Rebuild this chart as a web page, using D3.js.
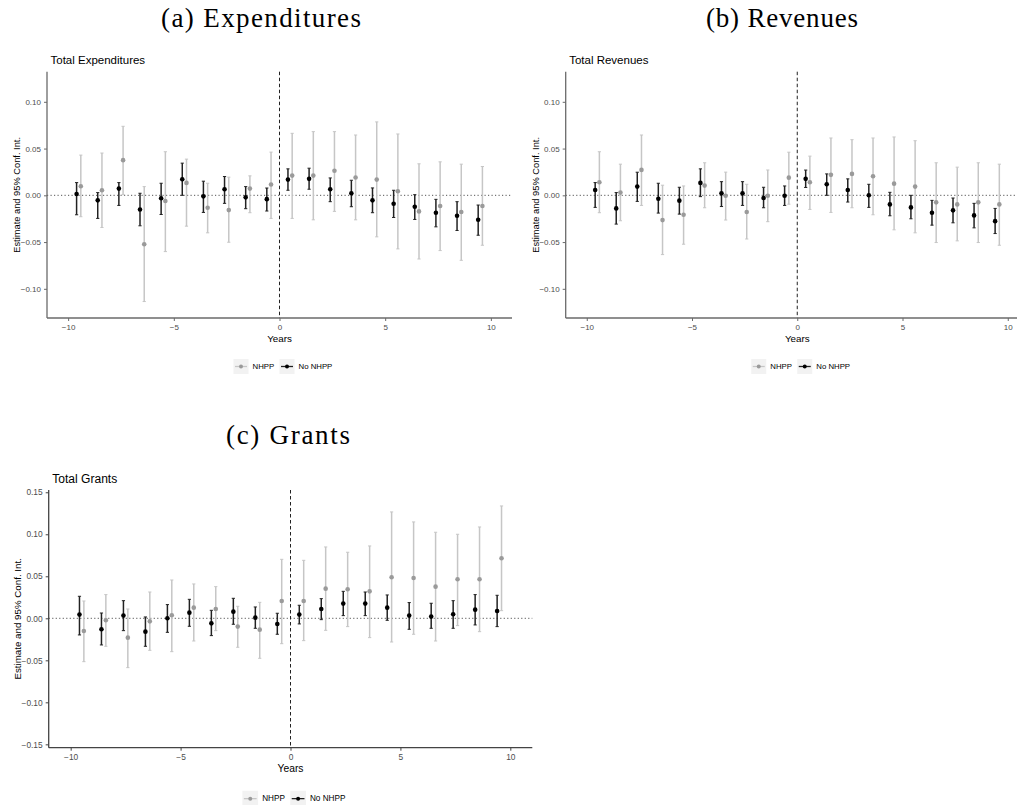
<!DOCTYPE html>
<html><head><meta charset="utf-8">
<script src="https://cdn.jsdelivr.net/npm/d3@7"></script>
<style>body{margin:0;background:#fff}svg{display:block}</style>
</head><body>
<svg id="chart" width="1017" height="805"></svg>
<script>
// ---------- data ----------
const years = [-9.5,-8.5,-7.5,-6.5,-5.5,-4.5,-3.5,-2.5,-1.5,-0.5,0.5,1.5,2.5,3.5,4.5,5.5,6.5,7.5,8.5,9.5];
const seriesNames = ["NHPP", "No NHPP"];
const xTicks = [-10, -5, 0, 5, 10];
const yTicksAB = [-0.10, -0.05, 0.00, 0.05, 0.10];
const yTicksC = [-0.15, -0.10, -0.05, 0.00, 0.05, 0.10, 0.15];

// Expenditures
const expNoEst = [0.0014,-0.0054,0.0072,-0.0151,-0.0032,0.0172,-0.0011,0.0065,-0.0022,-0.0041,0.0168,0.0176,0.0065,0.0022,-0.0054,-0.0090,-0.0122,-0.0186,-0.0219,-0.0262];
const expNoLo  = [-0.0208,-0.0247,-0.0108,-0.0326,-0.0205,0.0000,-0.0183,-0.0086,-0.0143,-0.0168,0.0054,0.0065,-0.0068,-0.0122,-0.0186,-0.0237,-0.0258,-0.0337,-0.0376,-0.0427];
const expNoHi  = [0.0136,0.0029,0.0136,0.0022,0.0129,0.0344,0.0151,0.0201,0.0093,0.0078,0.0283,0.0290,0.0186,0.0161,0.0079,0.0054,0.0007,-0.0043,-0.0068,-0.0104];
const expNhEst = [0.0097,0.0054,0.0376,-0.0523,-0.0061,0.0133,-0.0133,-0.0158,0.0072,0.0115,0.0211,0.0211,0.0262,0.0190,0.0168,0.0043,-0.0172,-0.0115,-0.0179,-0.0115];
const expNhLo  = [-0.0229,-0.0344,0.0007,-0.1136,-0.0602,-0.0330,-0.0401,-0.0502,-0.0186,-0.0247,-0.0247,-0.0262,-0.0172,-0.0262,-0.0444,-0.0573,-0.0681,-0.0591,-0.0695,-0.0534];
const expNhHi  = [0.0430,0.0452,0.0738,0.0093,0.0466,0.0387,0.0129,0.0194,0.0208,0.0462,0.0663,0.0681,0.0681,0.0645,0.0785,0.0656,0.0337,0.0358,0.0333,0.0308];

// Revenues
const revNoEst = [0.0057,-0.0140,0.0093,-0.0036,-0.0057,0.0133,0.0021,0.0021,-0.0029,-0.0005,0.0176,0.0118,0.0057,0.0000,-0.0097,-0.0129,-0.0186,-0.0161,-0.0215,-0.0276];
const revNoLo  = [-0.0129,-0.0308,-0.0065,-0.0190,-0.0201,-0.0014,-0.0120,-0.0108,-0.0133,-0.0108,0.0084,0.0000,-0.0072,-0.0129,-0.0219,-0.0251,-0.0319,-0.0294,-0.0348,-0.0409];
const revNoHi  = [0.0136,0.0029,0.0247,0.0129,0.0086,0.0283,0.0146,0.0146,0.0086,0.0100,0.0270,0.0229,0.0176,0.0118,0.0032,0.0000,-0.0054,-0.0029,-0.0086,-0.0140];
const revNhEst = [0.0140,0.0029,0.0272,-0.0265,-0.0208,0.0104,-0.0005,-0.0178,-0.0005,0.0189,0.0140,0.0219,0.0229,0.0204,0.0125,0.0093,-0.0075,-0.0097,-0.0075,-0.0097];
const revNhLo  = [-0.0186,-0.0272,-0.0108,-0.0634,-0.0523,-0.0133,-0.0264,-0.0467,-0.0282,-0.0095,-0.0151,-0.0183,-0.0133,-0.0208,-0.0369,-0.0401,-0.0505,-0.0487,-0.0505,-0.0534];
const revNhHi  = [0.0466,0.0333,0.0645,0.0108,0.0100,0.0348,0.0248,0.0118,0.0271,0.0461,0.0419,0.0613,0.0595,0.0613,0.0624,0.0584,0.0348,0.0301,0.0348,0.0333];

// Grants
const grNoEst = [0.0044,-0.0131,0.0032,-0.0159,0.0000,0.0067,-0.0060,0.0079,0.0008,-0.0067,0.0044,0.0111,0.0175,0.0175,0.0127,0.0032,0.0020,0.0048,0.0103,0.0087];
const grNoLo  = [-0.0198,-0.0317,-0.0147,-0.0333,-0.0167,-0.0095,-0.0206,-0.0071,-0.0119,-0.0190,-0.0067,-0.0016,0.0032,0.0032,-0.0024,-0.0131,-0.0119,-0.0119,-0.0079,-0.0099];
const grNoHi  = [0.0262,0.0063,0.0210,0.0016,0.0163,0.0226,0.0095,0.0238,0.0135,0.0060,0.0155,0.0234,0.0321,0.0313,0.0278,0.0187,0.0179,0.0210,0.0282,0.0274];
const grNhEst = [-0.0151,-0.0024,-0.0230,-0.0036,0.0036,0.0127,0.0111,-0.0099,-0.0135,0.0206,0.0206,0.0353,0.0345,0.0321,0.0488,0.0480,0.0377,0.0464,0.0464,0.0714];
const grNhLo  = [-0.0516,-0.0333,-0.0587,-0.0381,-0.0397,-0.0270,-0.0147,-0.0345,-0.0476,-0.0302,-0.0266,-0.0143,-0.0099,-0.0230,-0.0282,-0.0190,-0.0270,-0.0087,-0.0159,0.0091];
const grNhHi  = [0.0206,0.0282,0.0111,0.0313,0.0456,0.0409,0.0377,0.0143,0.0190,0.0702,0.0690,0.0849,0.0786,0.0861,0.1266,0.1147,0.1024,0.1000,0.1087,0.1337];

// ---------- drawing ----------
const svg = d3.select("#chart");
svg.append("rect").attr("width",1017).attr("height",805).attr("fill","#fff");

const styles = {
  "NHPP":    {bar:"#c6c6c6", dot:"#9a9a9a", dx: 0.1},
  "No NHPP": {bar:"#222222", dot:"#000000", dx:-0.1}
};

function panel(cfg){
  const g = svg.append("g");
  const s = cfg.scale;
  const x = d3.scaleLinear().domain([-11, 11]).range([cfg.x0, cfg.x1]);
  const y = d3.scaleLinear().domain(cfg.yDomain).range([cfg.yBottom, cfg.yTop]);

  // sub-figure caption (serif)
  g.append("text").attr("x", cfg.capX).attr("y", cfg.capY)
    .attr("text-anchor","middle").attr("font-family","'Liberation Serif', 'DejaVu Serif', serif")
    .attr("font-size", 27).attr("fill","#000")
    .attr("textLength", cfg.capW).attr("lengthAdjust","spacing")
    .text(cfg.caption);

  // panel title
  g.append("text").attr("x", cfg.x0 + 3.5).attr("y", cfg.yTop - 7.5)
    .attr("font-family","'Liberation Sans', Arial, sans-serif").attr("font-size", 11.5*s)
    .attr("fill","#000").text(cfg.title);

  // reference lines
  g.append("line").attr("x1", x.range()[0]).attr("x2", x.range()[1])
    .attr("y1", y(0)).attr("y2", y(0))
    .attr("stroke","#555").attr("stroke-width",1).attr("stroke-dasharray","1.2,2.3");
  g.append("line").attr("x1", x(0)).attr("x2", x(0))
    .attr("y1", cfg.yTop).attr("y2", cfg.yBottom)
    .attr("stroke","#222").attr("stroke-width",1).attr("stroke-dasharray","3.5,2.5");

  // axes
  const xAxis = d3.axisBottom(x).tickValues(xTicks).tickSize(3).tickPadding(3).tickFormat(d3.format("d"));
  const yAxis = d3.axisLeft(y).tickValues(cfg.yTicks).tickSize(3).tickPadding(3).tickFormat(d3.format(".2f"));
  const gx = g.append("g").attr("transform",`translate(0,${cfg.yBottom})`).call(xAxis);
  const gy = g.append("g").attr("transform",`translate(${cfg.x0},0)`).call(yAxis);
  [gx, gy].forEach(a => {
    a.select(".domain").attr("stroke", cfg.axisColor).attr("stroke-width",1.3);
    a.selectAll(".tick line").attr("stroke", cfg.axisColor).attr("stroke-width",1);
    a.selectAll(".tick text").attr("fill","#4d4d4d")
      .attr("font-family","'Liberation Sans', Arial, sans-serif").attr("font-size", 8*s);
  });
  gx.select(".domain").attr("d", `M${cfg.x0},0H${cfg.x1}`);
  gy.select(".domain").attr("d", `M0,${cfg.yTop}V${cfg.yBottom}`);
  gx.selectAll(".tick text").attr("dy","0.71em");

  // axis titles
  g.append("text").attr("x", (cfg.x0+cfg.x1)/2).attr("y", cfg.yBottom + 24)
    .attr("text-anchor","middle").attr("font-family","'Liberation Sans', Arial, sans-serif")
    .attr("font-size", 9.8*s).attr("fill","#000").text("Years");
  g.append("text")
    .attr("transform", `translate(${cfg.x0 - 30*s},${(cfg.yTop+cfg.yBottom)/2}) rotate(-90)`)
    .attr("text-anchor","middle").attr("dominant-baseline","central")
    .attr("font-family","'Liberation Sans', Arial, sans-serif")
    .attr("font-size", 9.3*s).attr("fill","#000").text("Estimate and 95% Conf. Int.");

  // error bars + points
  cfg.series.forEach(ser => {
    const st = styles[ser.name];
    const rows = years.map((yr,i) => ({yr, est: ser.est[i], lo: ser.lo[i], hi: ser.hi[i]}));
    const sg = g.append("g");
    sg.selectAll("line.bar").data(rows).join("line").attr("class","bar")
      .attr("x1", d => x(d.yr + st.dx)).attr("x2", d => x(d.yr + st.dx))
      .attr("y1", d => y(d.lo)).attr("y2", d => y(d.hi))
      .attr("stroke", st.bar).attr("stroke-width", 1.5);
    ["lo","hi"].forEach(k => {
      sg.selectAll("line.cap"+k).data(rows).join("line").attr("class","cap"+k)
        .attr("x1", d => x(d.yr + st.dx) - 1.6).attr("x2", d => x(d.yr + st.dx) + 1.6)
        .attr("y1", d => y(d[k])).attr("y2", d => y(d[k]))
        .attr("stroke", st.bar).attr("stroke-width", 1);
    });
    sg.selectAll("circle").data(rows).join("circle")
      .attr("cx", d => x(d.yr + st.dx)).attr("cy", d => y(d.est))
      .attr("r", 2.3).attr("fill", st.dot);
  });

  // legend
  const lg = g.append("g");
  const fs = 7.8*s;
  const cx = (cfg.x0+cfg.x1)/2 + 3;
  const ly = cfg.yBottom + 48.5*s;
  const boxW = 15*s;
  const widths = [22*s, 33*s];
  const total = boxW + 4 + widths[0] + 5 + boxW + 4 + widths[1];
  let xx = cx - total/2;
  seriesNames.forEach((nm,i) => {
    const st = styles[nm];
    lg.append("rect").attr("x", xx).attr("y", ly - boxW/2).attr("width", boxW).attr("height", boxW)
      .attr("fill","#f2f2f2");
    lg.append("line").attr("x1", xx+1.5).attr("x2", xx+boxW-1.5).attr("y1", ly).attr("y2", ly)
      .attr("stroke", st.bar).attr("stroke-width", 1.3);
    lg.append("circle").attr("cx", xx+boxW/2).attr("cy", ly).attr("r", 2).attr("fill", st.dot);
    lg.append("text").attr("x", xx+boxW+4).attr("y", ly).attr("dominant-baseline","central")
      .attr("font-family","'Liberation Sans', Arial, sans-serif").attr("font-size", fs)
      .attr("fill","#000").text(nm);
    xx += boxW + 4 + widths[i] + 5;
  });
}

panel({
  caption:"(a) Expenditures", capX:261, capY:27, capW:200,
  title:"Total Expenditures", scale:1, axisColor:"#6a6a6a",
  x0:47, x1:512, yTop:71.7, yBottom:318, yDomain:[-0.1312, 0.1322], yTicks:yTicksAB,
  series:[
    {name:"NHPP", est:expNhEst, lo:expNhLo, hi:expNhHi},
    {name:"No NHPP", est:expNoEst, lo:expNoLo, hi:expNoHi}
  ]
});
panel({
  caption:"(b) Revenues", capX:782, capY:27, capW:152,
  title:"Total Revenues", scale:1, axisColor:"#6a6a6a",
  x0:565.7, x1:1028.8, yTop:71.7, yBottom:318, yDomain:[-0.1312, 0.1322], yTicks:yTicksAB,
  series:[
    {name:"NHPP", est:revNhEst, lo:revNhLo, hi:revNhHi},
    {name:"No NHPP", est:revNoEst, lo:revNoLo, hi:revNoHi}
  ]
});
panel({
  caption:"(c) Grants", capX:288, capY:444, capW:124,
  title:"Total Grants", scale:1.05, axisColor:"#444",
  x0:48.7, x1:532.3, yTop:490, yBottom:747.7, yDomain:[-0.1540, 0.1527], yTicks:yTicksC,
  series:[
    {name:"NHPP", est:grNhEst, lo:grNhLo, hi:grNhHi},
    {name:"No NHPP", est:grNoEst, lo:grNoLo, hi:grNoHi}
  ]
});
</script>
</body></html>
